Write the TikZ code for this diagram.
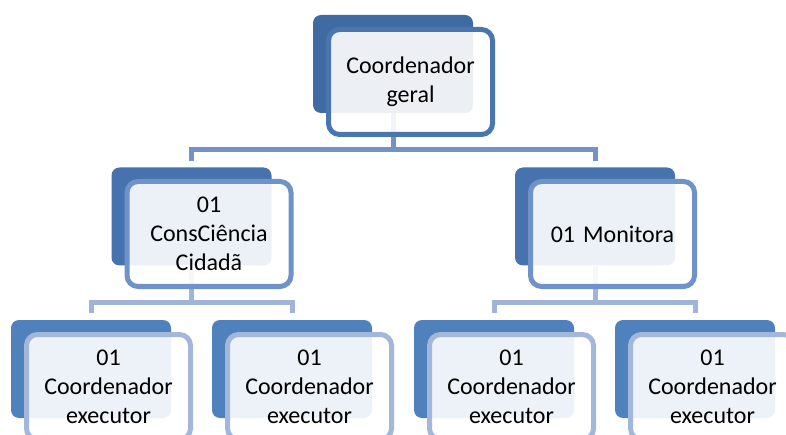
\documentclass[tikz,border=0pt]{standalone}
\usepackage{fontspec}
\setmainfont{Carlito}
\begin{document}
\begin{tikzpicture}[x=1pt,y=-1pt,
  backbox/.style={rectangle, rounded corners=8pt, minimum width=160pt, minimum height=98pt, inner sep=0pt},
  frontbox/.style={rectangle, rounded corners=11pt, minimum width=164pt, minimum height=105pt, line width=5pt,
     fill=white, fill opacity=0.9, text opacity=1, align=center, font=\fontsize{24}{29}\selectfont, text=black, inner sep=2pt, text width=155pt},
  conn/.style={line width=5pt},
]
\definecolor{backA}{HTML}{3F6BA2}
\definecolor{backB}{HTML}{4673AE}
\definecolor{backC}{HTML}{4F81BD}
\definecolor{bordA}{HTML}{4A76B0}
\definecolor{bordB}{HTML}{6F93C9}
\definecolor{bordC}{HTML}{A3B7DA}
\definecolor{connA}{HTML}{7393C8}
\definecolor{connB}{HTML}{A0B4D8}
\useasboundingbox (0,0) rectangle (786,435);
\clip (0,0) rectangle (786,435);

% coordinates for connector bends
\coordinate (h1) at (393,150);
\coordinate (e1) at (191.5,161);
\coordinate (e2) at (595,161);
\coordinate (h2) at (191.5,302);
\coordinate (h3) at (595,302);
\coordinate (e3) at (91,313);
\coordinate (e4) at (292,313);
\coordinate (e5) at (494,313);
\coordinate (e6) at (695,313);

% back boxes
\node[backbox, fill=backA] (b0) at (393,64) {};
\node[backbox, fill=backB] (b1) at (191.5,216.5) {};
\node[backbox, fill=backB] (b2) at (595,216.5) {};
\node[backbox, fill=backC] (b3) at (91,369) {};
\node[backbox, fill=backC] (b4) at (292,369) {};
\node[backbox, fill=backC] (b5) at (494,369) {};
\node[backbox, fill=backC] (b6) at (695,369) {};

% connectors
\draw[conn, connA] (b0.south) -- (h1);
\draw[conn, connA] (e1) |- (h1) -| (e2);
\draw[conn, connB] (b1.south) -- (h2);
\draw[conn, connB] (e3) |- (h2) -| (e4);
\draw[conn, connB] (b2.south) -- (h3);
\draw[conn, connB] (e5) |- (h3) -| (e6);

% front boxes
\node[frontbox, draw=bordA] (f0) at (410.5,82) {Coordenador\\geral};
\node[frontbox, draw=bordB] (f1) at (209,234) {01\\ConsCiência\\Cidadã};
\node[frontbox, draw=bordB] (f2) at (612.5,234) {01 Monitora};
\node[frontbox, draw=bordC] (f3) at (108.5,387) {01\\Coordenador\\executor};
\node[frontbox, draw=bordC] (f4) at (309.5,387) {01\\Coordenador\\executor};
\node[frontbox, draw=bordC] (f5) at (511.5,387) {01\\Coordenador\\executor};
\node[frontbox, draw=bordC] (f6) at (712.5,387) {01\\Coordenador\\executor};
\end{tikzpicture}
\end{document}
